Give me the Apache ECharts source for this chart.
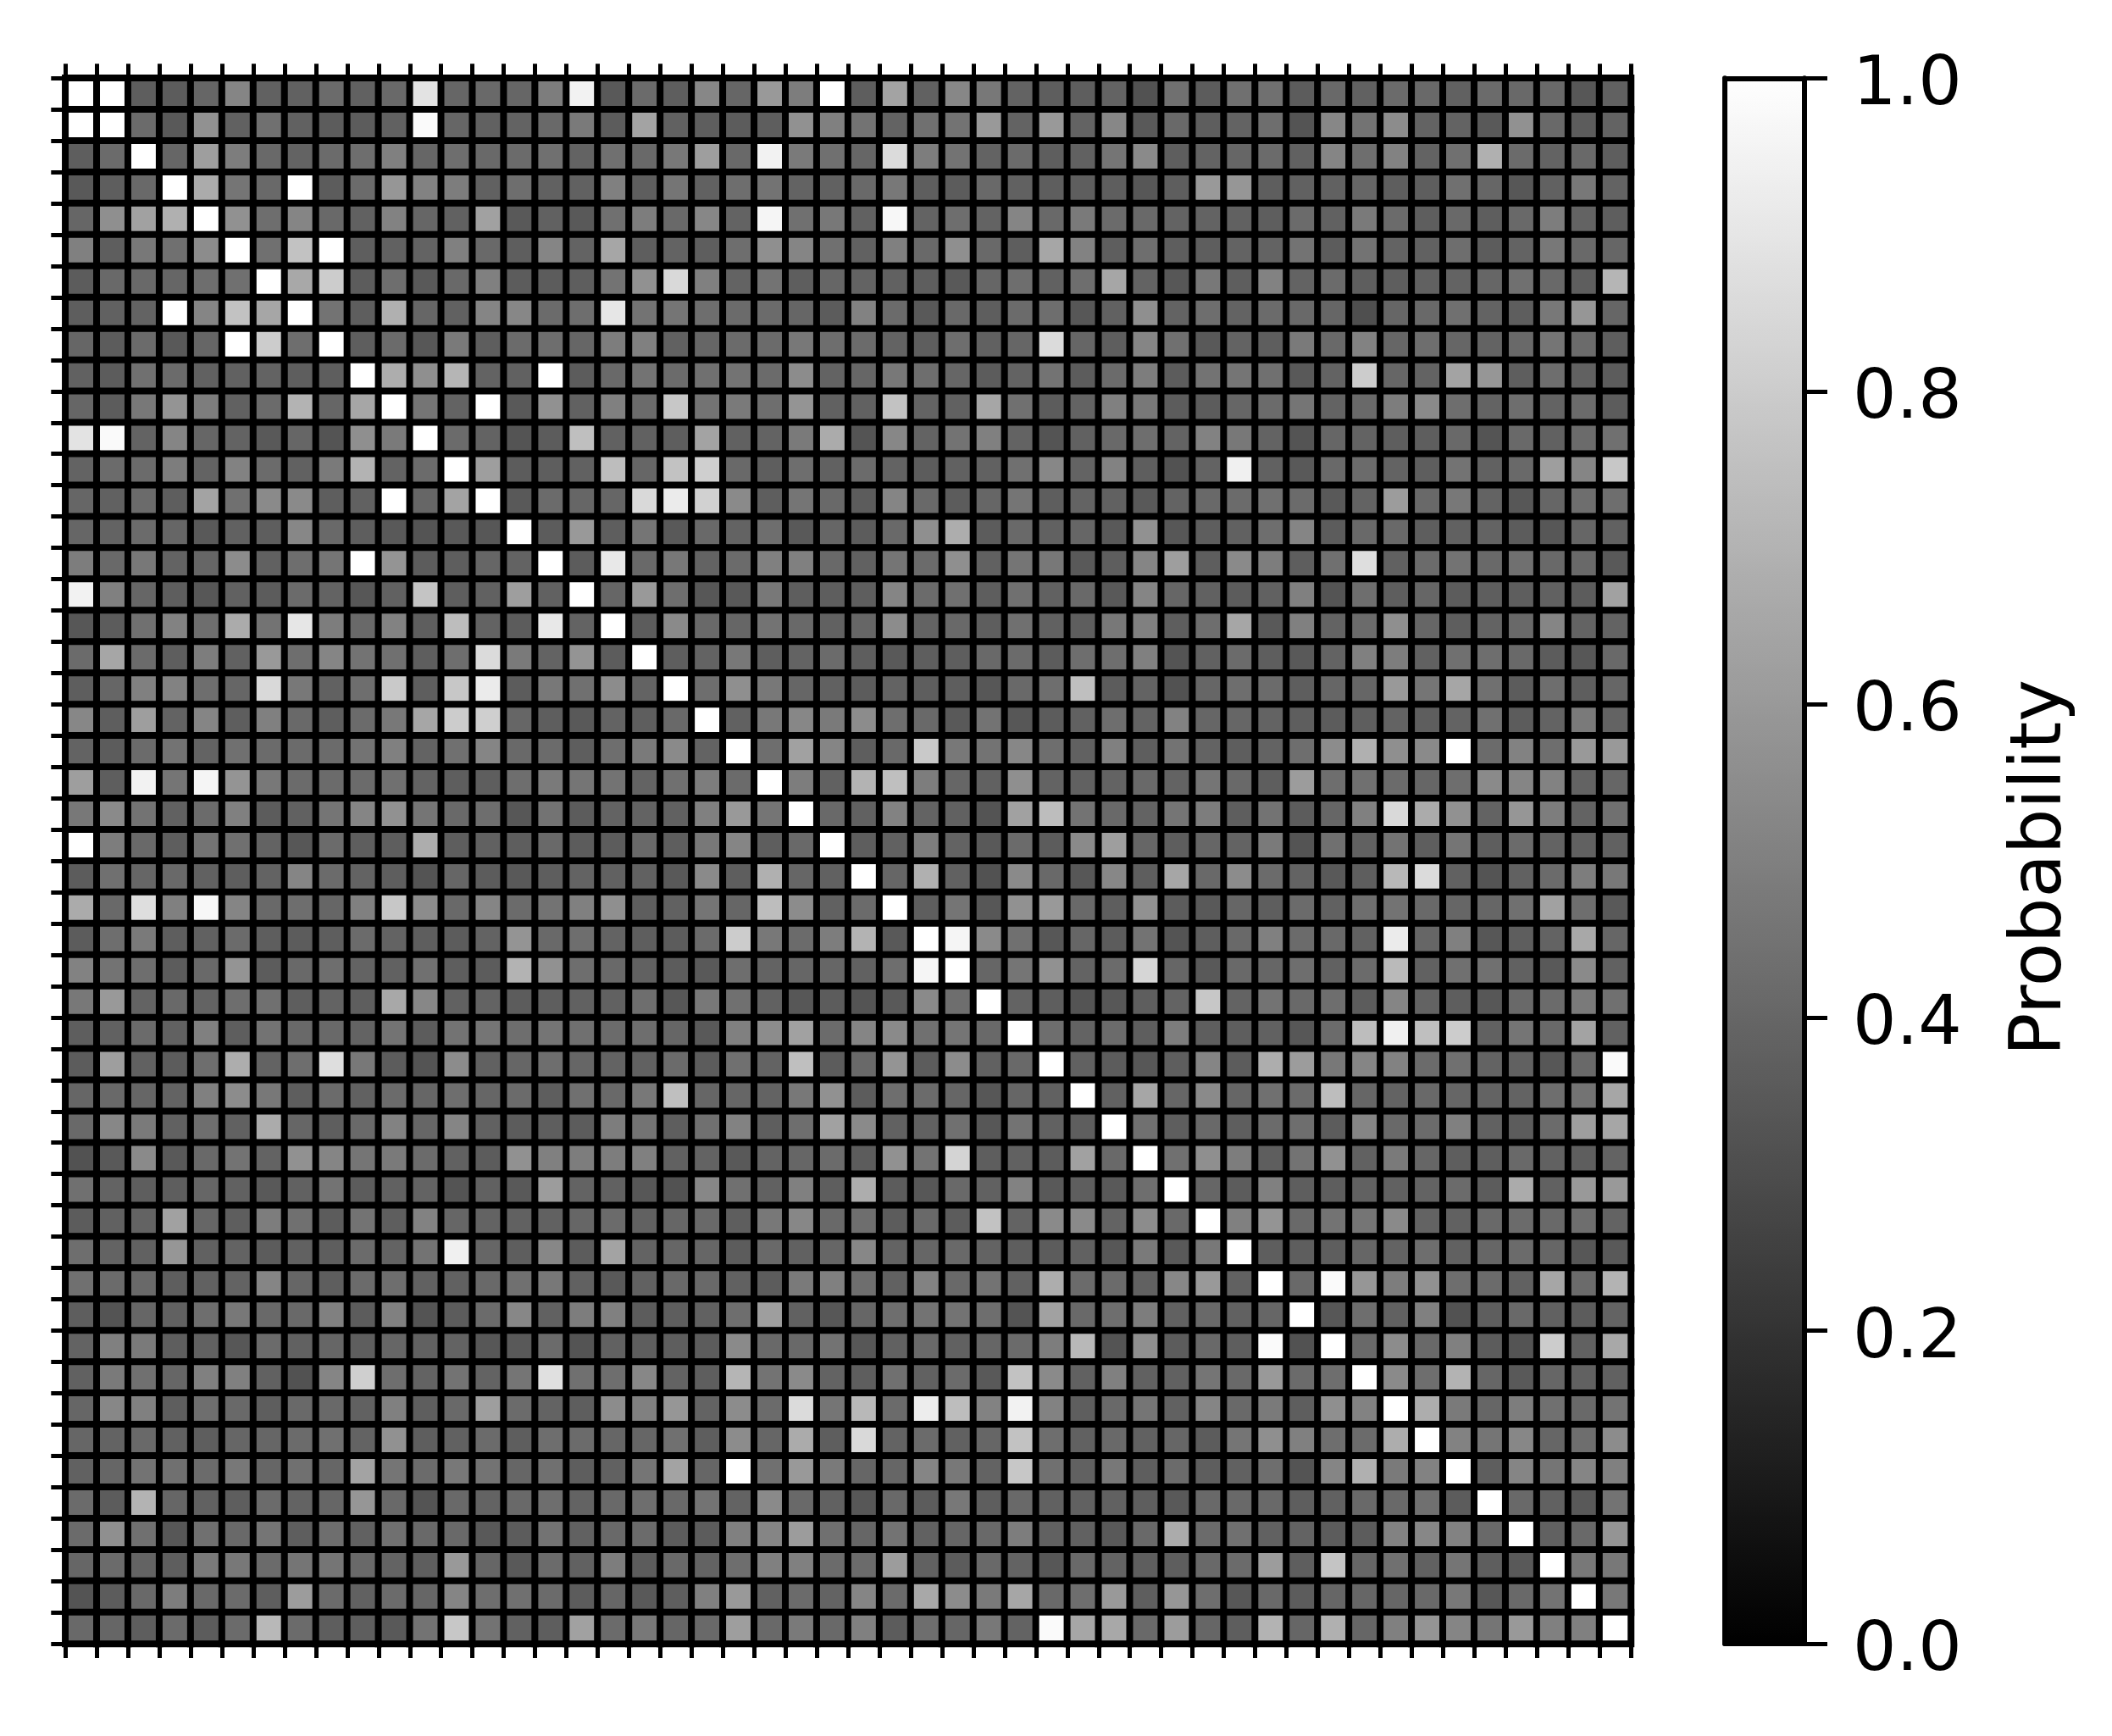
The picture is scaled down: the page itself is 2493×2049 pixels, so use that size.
<!DOCTYPE html>
<html>
<head>
<meta charset="utf-8">
<title>Probability matrix</title>
<script src="https://cdn.jsdelivr.net/npm/echarts@6/dist/echarts.min.js"></script>
<style>
  html, body { margin: 0; padding: 0; background: #fff; }
  #chart { width: 2493px; height: 2049px; }
</style>
</head>
<body>
<div id="chart"></div>
<script>
// values, one list per row, top row first
const row00 = [1,1,.37,.36,.4,.52,.38,.38,.42,.38,.41,.89,.4,.41,.4,.49,.95, .35,.42,.37,.53,.4,.6,.49,1,.37,.64,.38,.53,.47,.39,.37,.37, .39,.32,.44,.36,.44,.44,.36,.41,.38,.42,.41,.38,.42,.41,.41,.34,.38]
const row01 = [1,1,.42,.35,.57,.38,.44,.38,.36,.36,.38,.98,.4,.38,.39,.41,.48, .36,.64,.38,.37,.36,.37,.57,.5,.45,.39,.44,.45,.6,.39,.6,.39, .53,.35,.41,.37,.39,.43,.33,.53,.45,.55,.39,.39,.35,.57,.41,.36,.39]
const row02 = [.37,.42,1,.4,.62,.49,.41,.39,.42,.43,.5,.4,.43,.41,.42,.44,.39, .44,.41,.47,.62,.41,.95,.48,.44,.4,.86,.49,.45,.39,.42,.37,.38, .46,.54,.37,.39,.4,.42,.38,.52,.43,.51,.39,.44,.69,.42,.39,.41,.37]
const row03 = [.35,.37,.41,1,.67,.46,.41,1,.36,.42,.59,.51,.49,.38,.43,.38,.38, .5,.37,.46,.38,.43,.45,.39,.38,.41,.47,.37,.36,.41,.38,.37,.37, .37,.34,.37,.6,.59,.37,.38,.38,.4,.37,.37,.44,.4,.34,.38,.47,.39]
const row04 = [.4,.56,.63,.69,1,.57,.43,.52,.41,.38,.51,.4,.38,.63,.35,.38,.35, .44,.49,.41,.53,.39,.96,.44,.47,.38,.97,.39,.43,.39,.52,.41,.48, .42,.41,.39,.39,.38,.37,.42,.38,.48,.42,.37,.41,.37,.41,.49,.39,.37]
const row05 = [.5,.37,.47,.44,.55,1,.44,.76,1,.37,.38,.39,.5,.41,.37,.52,.39, .65,.37,.39,.37,.43,.56,.52,.44,.38,.5,.41,.56,.41,.37,.65,.51, .37,.43,.37,.37,.39,.39,.45,.36,.45,.39,.38,.43,.36,.39,.47,.41,.4]
const row06 = [.36,.41,.41,.4,.43,.44,1,.66,.8,.36,.43,.35,.41,.5,.36,.36,.37, .45,.57,.85,.5,.39,.45,.37,.4,.39,.38,.37,.35,.4,.43,.38,.43, .65,.39,.34,.47,.37,.51,.39,.42,.37,.37,.38,.39,.4,.44,.41,.37,.71]
const row07 = [.37,.38,.39,1,.52,.76,.65,1,.45,.37,.69,.4,.38,.52,.53,.42,.43, .9,.45,.46,.43,.42,.42,.4,.36,.51,.42,.35,.41,.37,.42,.43,.34, .38,.56,.39,.43,.39,.42,.41,.4,.31,.4,.41,.44,.39,.37,.47,.59,.4]
const row08 = [.4,.36,.42,.35,.4,1,.8,.43,1,.37,.42,.34,.48,.37,.42,.43,.4, .49,.5,.38,.4,.42,.42,.47,.43,.42,.39,.37,.43,.38,.4,.86,.4, .37,.52,.44,.35,.39,.37,.48,.41,.51,.4,.43,.4,.39,.41,.46,.42,.37]
const row09 = [.38,.36,.44,.42,.38,.38,.39,.37,.37,1,.68,.56,.71,.39,.38,1,.36, .41,.45,.42,.44,.45,.42,.55,.39,.4,.47,.43,.4,.36,.39,.45,.36, .42,.49,.36,.45,.46,.44,.35,.39,.8,.4,.39,.64,.59,.37,.43,.38,.36]
const row10 = [.4,.36,.47,.58,.49,.38,.42,.7,.4,.65,1,.46,.39,1,.35,.57,.38, .5,.42,.78,.45,.48,.43,.58,.38,.38,.76,.39,.38,.65,.44,.36,.39, .5,.47,.36,.36,.4,.42,.46,.39,.41,.49,.54,.43,.39,.43,.39,.42,.36]
const row11 = [.89,.98,.39,.52,.4,.39,.35,.4,.33,.56,.48,1,.42,.39,.33,.36,.75, .38,.38,.37,.64,.38,.39,.48,.67,.33,.53,.39,.45,.5,.39,.33,.38, .41,.43,.39,.51,.47,.39,.33,.4,.39,.37,.37,.41,.33,.41,.38,.42,.44]
const row12 = [.39,.42,.42,.49,.39,.51,.42,.38,.48,.7,.39,.42,1,.62,.36,.37,.38, .74,.4,.76,.81,.41,.37,.43,.38,.42,.39,.36,.38,.38,.44,.53,.39, .51,.37,.32,.39,.94,.38,.35,.41,.42,.39,.37,.45,.38,.41,.62,.52,.78]
const row13 = [.4,.38,.42,.37,.64,.44,.54,.54,.37,.38,1,.4,.64,1,.35,.42,.4, .4,.85,.92,.82,.54,.37,.46,.41,.36,.52,.41,.36,.4,.46,.37,.39, .38,.35,.39,.41,.42,.44,.42,.35,.39,.61,.41,.47,.39,.34,.4,.43,.43]
const row14 = [.4,.39,.42,.4,.35,.38,.37,.53,.41,.37,.35,.33,.35,.34,1,.36,.6, .37,.46,.35,.41,.39,.43,.35,.4,.36,.41,.56,.68,.36,.41,.38,.4, .35,.57,.34,.37,.38,.43,.52,.36,.41,.41,.37,.38,.39,.36,.34,.4,.38]
const row15 = [.49,.41,.47,.39,.4,.55,.38,.43,.46,1,.58,.36,.37,.4,.39,1,.36, .91,.41,.47,.39,.42,.5,.5,.41,.38,.46,.42,.56,.38,.46,.47,.35, .37,.52,.62,.37,.54,.49,.37,.44,.87,.38,.42,.45,.41,.44,.41,.41,.35]
const row16 = [.95,.5,.4,.37,.34,.38,.36,.42,.39,.34,.38,.77,.37,.38,.62,.38,1, .4,.6,.43,.34,.35,.47,.37,.37,.37,.52,.42,.44,.37,.44,.38,.41, .35,.52,.4,.38,.36,.38,.5,.33,.43,.37,.4,.36,.37,.37,.38,.36,.63]
const row17 = [.34,.36,.44,.51,.43,.67,.45,.9,.49,.41,.51,.37,.74,.39,.36,.91,.39, 1,.36,.54,.41,.4,.45,.41,.38,.4,.55,.39,.41,.37,.44,.38,.37, .47,.5,.37,.43,.65,.35,.5,.39,.42,.56,.4,.37,.39,.41,.52,.39,.39]
const row18 = [.42,.65,.42,.37,.49,.38,.6,.43,.52,.45,.44,.37,.43,.86,.48,.39,.58, .36,1,.37,.39,.47,.37,.39,.42,.37,.35,.37,.37,.41,.42,.36,.43, .43,.5,.33,.38,.42,.37,.35,.39,.5,.49,.38,.44,.43,.41,.36,.34,.41]
const row19 = [.37,.4,.5,.51,.43,.4,.85,.47,.38,.43,.79,.37,.78,.92,.36,.47,.44, .55,.39,1,.43,.56,.47,.4,.38,.36,.39,.37,.37,.34,.41,.43,.75, .36,.39,.32,.4,.43,.42,.37,.4,.4,.6,.46,.65,.44,.36,.43,.37,.4]
const row20 = [.53,.37,.62,.39,.52,.37,.5,.41,.37,.42,.47,.65,.8,.81,.4,.37,.35, .39,.37,.41,1,.38,.47,.53,.48,.55,.43,.41,.35,.45,.34,.36,.38, .43,.39,.51,.4,.4,.39,.37,.36,.37,.39,.37,.39,.44,.36,.39,.48,.39]
const row21 = [.39,.36,.42,.45,.39,.44,.42,.42,.42,.45,.5,.39,.44,.52,.41,.42,.37, .43,.48,.54,.39,1,.43,.63,.52,.37,.41,.79,.47,.45,.53,.43,.38, .5,.37,.45,.39,.37,.39,.43,.55,.69,.56,.54,1,.42,.51,.43,.6,.6]
const row22 = [.62,.37,.95,.46,.96,.58,.47,.42,.42,.42,.44,.39,.37,.37,.43,.48,.46, .45,.39,.44,.49,.42,1,.49,.38,.7,.75,.49,.4,.38,.56,.39,.38, .39,.41,.39,.46,.41,.37,.61,.43,.44,.42,.4,.43,.54,.52,.51,.39,.4]
const row23 = [.47,.54,.45,.38,.42,.5,.36,.38,.46,.52,.57,.46,.41,.43,.34,.45,.36, .39,.39,.38,.5,.6,.46,1,.41,.38,.51,.39,.38,.33,.63,.74,.45, .41,.39,.46,.49,.37,.45,.36,.4,.5,.85,.67,.57,.39,.59,.49,.39,.44]
const row24 = [1,.49,.41,.37,.45,.44,.39,.34,.42,.37,.37,.68,.37,.38,.37,.41,.36, .36,.41,.37,.47,.52,.37,.41,1,.37,.38,.49,.39,.35,.42,.36,.54, .62,.4,.37,.4,.39,.48,.33,.44,.38,.45,.37,.46,.37,.42,.39,.38,.38]
const row25 = [.36,.44,.4,.41,.38,.37,.39,.52,.42,.39,.37,.33,.4,.36,.35,.37,.39, .38,.38,.35,.54,.37,.69,.4,.38,1,.4,.69,.38,.32,.54,.41,.34, .53,.37,.65,.41,.55,.42,.39,.35,.37,.72,.86,.38,.33,.38,.42,.49,.47]
const row26 = [.67,.41,.87,.5,.97,.52,.41,.43,.4,.5,.78,.55,.41,.52,.42,.45,.5, .56,.37,.38,.46,.4,.74,.55,.38,.42,1,.37,.46,.34,.57,.6,.41, .37,.57,.36,.35,.4,.37,.42,.38,.43,.45,.41,.4,.4,.44,.63,.43,.35]
const row27 = [.36,.43,.48,.37,.38,.42,.37,.36,.37,.42,.39,.37,.36,.39,.58,.41,.43, .39,.37,.36,.42,.8,.47,.42,.49,.7,.35,1,.96,.54,.44,.34,.4, .36,.45,.33,.37,.41,.5,.42,.41,.38,.92,.4,.5,.34,.37,.39,.66,.4]
const row28 = [.51,.45,.43,.36,.41,.58,.36,.41,.43,.39,.38,.44,.37,.36,.7,.57,.43, .41,.38,.36,.35,.43,.39,.4,.4,.38,.43,.96,1,.4,.46,.57,.39, .42,.84,.4,.35,.41,.4,.43,.38,.42,.73,.38,.44,.44,.38,.35,.54,.38]
const row29 = [.47,.6,.39,.41,.39,.43,.44,.37,.39,.37,.66,.53,.38,.39,.36,.37,.38, .38,.43,.34,.47,.44,.38,.34,.36,.33,.35,.54,.43,1,.39,.37,.33, .34,.37,.39,.78,.39,.45,.41,.43,.36,.52,.39,.37,.34,.41,.42,.48,.44]
const row30 = [.37,.38,.42,.38,.5,.37,.45,.41,.41,.39,.45,.36,.45,.46,.43,.46,.44, .42,.43,.4,.35,.5,.55,.63,.42,.52,.54,.44,.46,.41,1,.43,.39, .42,.37,.49,.37,.37,.38,.34,.42,.74,.94,.75,.8,.38,.46,.41,.64,.38]
const row31 = [.36,.62,.38,.36,.43,.68,.39,.43,.87,.47,.36,.33,.55,.38,.4,.43,.4, .39,.38,.42,.36,.44,.39,.75,.36,.41,.58,.36,.55,.38,.41,1,.38, .36,.34,.37,.52,.36,.68,.61,.47,.52,.51,.42,.44,.39,.38,.34,.41,.98]
const row32 = [.4,.41,.4,.39,.5,.55,.47,.37,.42,.38,.42,.4,.43,.4,.42,.37,.44, .41,.47,.75,.4,.4,.39,.47,.57,.36,.43,.42,.4,.34,.4,.38,1, .38,.65,.4,.54,.4,.44,.42,.74,.4,.39,.41,.4,.39,.39,.43,.45,.65]
const row33 = [.41,.53,.48,.38,.43,.38,.67,.4,.37,.41,.51,.4,.52,.38,.36,.37,.36, .49,.45,.37,.44,.51,.37,.43,.63,.54,.38,.38,.44,.34,.45,.38,.37, 1,.44,.37,.41,.37,.42,.43,.36,.52,.41,.42,.5,.38,.36,.42,.62,.65]
const row34 = [.32,.35,.54,.35,.41,.45,.39,.57,.52,.46,.48,.42,.38,.36,.57,.5,.49, .49,.5,.38,.39,.35,.39,.4,.42,.36,.57,.45,.83,.37,.38,.36,.63, .41,1,.44,.56,.49,.37,.45,.57,.38,.48,.4,.37,.37,.41,.38,.37,.39]
const row35 = [.44,.39,.37,.37,.4,.38,.35,.38,.45,.36,.38,.39,.33,.38,.35,.61,.39, .38,.34,.32,.53,.44,.38,.5,.37,.68,.36,.34,.41,.38,.51,.35,.37, .35,.43,1,.4,.36,.5,.37,.37,.38,.38,.39,.42,.36,.67,.38,.6,.6]
const row36 = [.36,.38,.39,.63,.4,.37,.49,.44,.36,.45,.37,.51,.4,.39,.38,.38,.4, .42,.38,.4,.41,.37,.47,.53,.41,.43,.36,.41,.36,.76,.39,.54,.54, .39,.55,.41,1,.5,.58,.41,.45,.46,.54,.39,.38,.41,.42,.41,.43,.39]
const row37 = [.43,.39,.38,.59,.38,.39,.36,.38,.37,.42,.39,.45,.94,.4,.37,.53,.36, .64,.39,.4,.4,.36,.41,.38,.4,.53,.39,.4,.41,.39,.37,.36,.38, .34,.48,.35,.47,1,.37,.37,.37,.4,.39,.43,.38,.4,.42,.4,.34,.35]
const row38 = [.44,.42,.41,.37,.38,.39,.52,.4,.37,.42,.43,.38,.38,.41,.44,.47,.38, .35,.38,.41,.41,.38,.36,.48,.5,.43,.38,.51,.41,.45,.38,.68,.42, .42,.38,.53,.6,.38,1,.41,.98,.59,.49,.57,.43,.42,.38,.65,.42,.7]
const row39 = [.37,.33,.4,.38,.43,.47,.41,.41,.5,.36,.5,.33,.36,.42,.53,.38,.49, .5,.36,.37,.38,.43,.62,.38,.34,.4,.43,.45,.45,.43,.33,.63,.41, .43,.49,.38,.41,.38,.4,1,.34,.43,.38,.5,.32,.37,.41,.38,.36,.39]
const row40 = [.39,.5,.48,.37,.38,.34,.42,.38,.4,.37,.4,.38,.39,.34,.35,.42,.33, .38,.37,.37,.36,.54,.41,.41,.45,.34,.38,.41,.38,.4,.42,.49,.72, .33,.56,.36,.41,.37,.98,.32,1,.41,.55,.41,.5,.36,.33,.8,.38,.66]
const row41 = [.38,.48,.44,.4,.5,.5,.38,.32,.52,.81,.43,.39,.45,.39,.46,.88,.44, .43,.53,.39,.37,.71,.45,.54,.39,.37,.44,.38,.42,.35,.76,.54,.38, .5,.38,.38,.46,.41,.6,.42,.43,1,.54,.43,.7,.4,.35,.4,.38,.38]
const row42 = [.4,.53,.5,.37,.43,.41,.37,.41,.41,.38,.5,.37,.41,.62,.42,.39,.37, .55,.5,.59,.39,.55,.42,.86,.46,.72,.42,.93,.74,.51,.95,.51,.37, .41,.46,.38,.52,.41,.48,.37,.56,.51,1,.68,.48,.4,.49,.44,.41,.45]
const row43 = [.4,.39,.41,.38,.37,.4,.4,.42,.44,.39,.57,.37,.38,.42,.37,.43,.42, .4,.4,.44,.37,.55,.4,.67,.37,.85,.39,.42,.38,.4,.76,.43,.38, .41,.38,.4,.36,.46,.56,.5,.43,.42,.68,1,.51,.46,.53,.4,.43,.55]
const row44 = [.38,.4,.45,.44,.42,.47,.4,.44,.4,.64,.46,.42,.47,.45,.4,.44,.37, .38,.46,.64,.4,1,.44,.6,.48,.4,.4,.52,.47,.39,.78,.44,.38, .47,.37,.42,.37,.38,.43,.33,.52,.69,.48,.51,1,.37,.52,.46,.52,.5]
const row45 = [.42,.36,.7,.4,.38,.37,.42,.39,.4,.59,.41,.33,.41,.39,.41,.43,.39, .41,.43,.41,.45,.39,.54,.41,.38,.34,.41,.36,.47,.37,.41,.38,.38, .38,.37,.35,.41,.41,.41,.37,.38,.41,.41,.44,.36,1,.41,.38,.35,.45]
const row46 = [.42,.56,.44,.34,.44,.41,.46,.37,.43,.38,.44,.41,.41,.35,.36,.45,.38, .41,.42,.36,.36,.5,.52,.61,.44,.4,.45,.38,.4,.41,.49,.38,.38, .35,.41,.67,.42,.44,.38,.39,.36,.36,.51,.53,.51,.41,1,.38,.41,.58]
const row47 = [.4,.42,.39,.37,.48,.47,.42,.46,.46,.41,.39,.37,.6,.4,.35,.42,.38, .49,.36,.41,.39,.43,.5,.5,.42,.42,.61,.38,.36,.41,.39,.34,.41, .39,.37,.37,.41,.42,.61,.37,.77,.4,.44,.38,.46,.37,.35,1,.47,.47]
const row48 = [.33,.36,.41,.49,.41,.42,.37,.61,.42,.38,.42,.4,.52,.43,.44,.42,.36, .4,.35,.37,.5,.6,.38,.42,.39,.52,.42,.66,.55,.48,.65,.41,.43, .6,.37,.59,.43,.34,.41,.36,.4,.4,.4,.41,.47,.34,.41,.45,1,.47]
const row49 = [.41,.4,.37,.42,.36,.42,.72,.42,.37,.37,.35,.45,.78,.45,.38,.37,.63, .42,.47,.4,.41,.62,.41,.48,.41,.5,.36,.43,.4,.47,.39,.98,.65, .66,.41,.61,.4,.37,.7,.4,.69,.4,.5,.58,.52,.46,.6,.5,.5,1]

const rows = [
  row00, row01, row02, row03, row04, row05, row06, row07, row08, row09,
  row10, row11, row12, row13, row14, row15, row16, row17, row18, row19,
  row20, row21, row22, row23, row24, row25, row26, row27, row28, row29,
  row30, row31, row32, row33, row34, row35, row36, row37, row38, row39,
  row40, row41, row42, row43, row44, row45, row46, row47, row48, row49
]
const colorbarTicks = [0, 0.2, 0.4, 0.6, 0.8, 1]

const labels = rows.map((r, i) => String(i))
const cells = []
rows.forEach((r, y) => r.forEach((v, x) => cells.push([x, y, v])))

const font = 'DejaVu Sans'
const tick = { show: true, length: 17, interval: 0, lineStyle: { color: '#000', width: 5 } }
const line = { show: true, onZero: false, lineStyle: { color: '#000', width: 7 } }
const barLine = { show: true, onZero: false, lineStyle: { color: '#000', width: 6 } }

const chart = echarts.init(document.getElementById('chart'), null, { renderer: 'canvas' })
chart.setOption({
  animation: false,
  backgroundColor: '#fff',
  grid: [
    { left: 77.3, top: 92.3, width: 1847.7, height: 1847.7 },
    { left: 2036, top: 92.3, width: 94, height: 1847.7 }
  ],
  xAxis: [
    { type: 'category', data: labels, gridIndex: 0, position: 'bottom', axisLine: line, axisTick: tick, axisLabel: { show: false }, splitLine: { show: false } },
    { type: 'category', data: labels, gridIndex: 0, position: 'top', axisLine: line, axisTick: tick, axisLabel: { show: false }, splitLine: { show: false } },
    { type: 'value', min: 0, max: 1, gridIndex: 1, position: 'bottom', z: 10, axisLine: barLine, axisTick: { show: false }, axisLabel: { show: false }, splitLine: { show: false } },
    { type: 'value', min: 0, max: 1, gridIndex: 1, position: 'top', z: 10, axisLine: barLine, axisTick: { show: false }, axisLabel: { show: false }, splitLine: { show: false } }
  ],
  yAxis: [
    { type: 'category', data: labels, inverse: true, gridIndex: 0, position: 'left', axisLine: line, axisTick: tick, axisLabel: { show: false }, splitLine: { show: false } },
    {
      type: 'value', min: 0, max: 1, interval: 0.2, gridIndex: 1, position: 'right', z: 10,
      name: 'Probability', nameLocation: 'middle', nameRotate: 90, nameGap: 238,
      nameTextStyle: { fontFamily: font, fontSize: 84, color: '#000', padding: [0, 16, 0, 0] },
      axisLine: barLine,
      axisTick: { show: true, length: 27, customValues: colorbarTicks, lineStyle: { color: '#000', width: 5 } },
      axisLabel: {
        show: true, margin: 57, fontFamily: font, fontSize: 81, color: '#000',
        verticalAlign: 'top', lineHeight: 20,
        customValues: colorbarTicks,
        formatter: v => v.toFixed(1)
      },
      splitLine: { show: false }
    },
    { type: 'value', min: 0, max: 1, gridIndex: 1, position: 'left', z: 10, axisLine: barLine, axisTick: { show: false }, axisLabel: { show: false }, splitLine: { show: false } }
  ],
  visualMap: {
    type: 'continuous', min: 0, max: 1, seriesIndex: 0, calculable: false, hoverLink: false,
    left: 2036, top: 92.3, itemWidth: 94, itemHeight: 1847.7, padding: 0,
    inRange: { color: ['#000000', '#ffffff'] }
  },
  series: [{
    type: 'heatmap',
    xAxisIndex: 0,
    yAxisIndex: 0,
    data: cells,
    progressive: 0,
    itemStyle: { borderColor: '#000', borderWidth: 8 },
    emphasis: { disabled: true }
  }]
})
</script>
</body>
</html>
